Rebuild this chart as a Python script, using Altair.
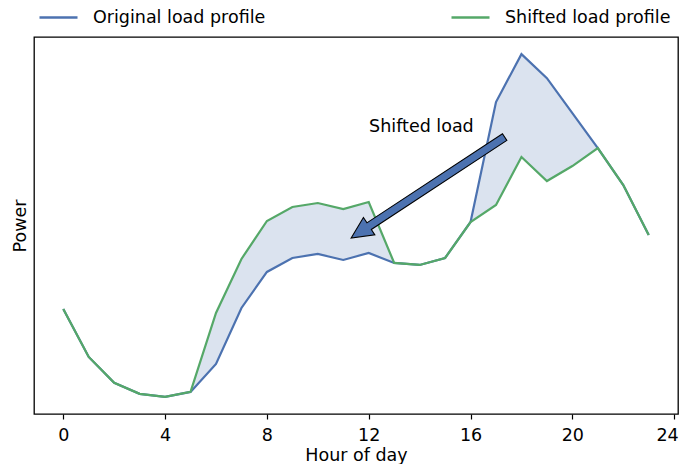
import math
import altair as alt
import pandas as pd

# ---- data ----
hours = list(range(24))
original = [11.1, 6.3, 3.7, 2.6, 2.3, 2.8, 5.6, 11.2, 14.8, 16.2, 16.6, 16.0,
            16.7, 15.7, 15.5, 16.2, 19.8, 31.8, 36.6, 34.2, 30.7, 27.2, 23.5, 18.5]
shifted = [11.1, 6.3, 3.7, 2.6, 2.3, 2.8, 10.7, 16.1, 19.9, 21.3, 21.7, 21.1,
           21.8, 15.7, 15.5, 16.2, 19.8, 21.5, 26.3, 23.9, 25.4, 27.2, 23.5, 18.5]
series_names = ["Original load profile", "Shifted load profile"]
x_ticks = [0, 4, 8, 12, 16, 20, 24]

# annotation (data coordinates)
arrow_tail = (17.34, 28.3)
arrow_head = (11.31, 18.2)
label_pos = (14.07, 28.8)
label_text = "Shifted load"

BLUE = "#4C72B0"
GREEN = "#55A868"
FONT = "DejaVu Sans"
FS = 17.5

W, H = 644, 377
XDOM = [-1.15, 24.15]
YDOM = [0.585, 38.315]

wide = pd.DataFrame({"hour": hours, "orig": original, "shift": shifted})
long = pd.concat([
    pd.DataFrame({"hour": hours, "power": original, "series": series_names[0]}),
    pd.DataFrame({"hour": hours, "power": shifted, "series": series_names[1]}),
])

xs = alt.Scale(domain=XDOM, nice=False, zero=False)
ys = alt.Scale(domain=YDOM, nice=False, zero=False)

xaxis = alt.Axis(values=x_ticks, title="Hour of day", grid=False, domain=False,
                 tickSize=5, tickColor="black", tickWidth=1.2, labelPadding=7,
                 labelFlush=6, labelFlushOffset=4,
                 labelFont=FONT, labelFontSize=FS, labelColor="black",
                 titleFont=FONT, titleFontSize=FS, titleFontWeight="normal",
                 titleColor="black", titlePadding=3, format="d")
yaxis = alt.Axis(title="Power", labels=False, ticks=False, domain=False, grid=False,
                 titleFont=FONT, titleFontSize=FS, titleFontWeight="normal",
                 titleColor="black", titlePadding=5)

area = alt.Chart(wide).mark_area(color=BLUE, opacity=0.2).encode(
    x=alt.X("hour:Q", scale=xs, axis=xaxis),
    y=alt.Y("orig:Q", scale=ys, axis=yaxis),
    y2="shift:Q",
)

lines = alt.Chart(long).mark_line(strokeWidth=2.2).encode(
    x=alt.X("hour:Q", scale=xs),
    y=alt.Y("power:Q", scale=ys),
    color=alt.Color("series:N",
                    scale=alt.Scale(domain=series_names, range=[BLUE, GREEN]),
                    legend=alt.Legend(title=None, orient="none", legendX=4, legendY=-40,
                                      direction="horizontal", columns=2,
                                      columnPadding=180, symbolType="stroke",
                                      symbolSize=1444, symbolStrokeWidth=2.5,
                                      labelOffset=14, labelLimit=400, padding=0,
                                      labelFont=FONT, labelFontSize=FS,
                                      labelColor="black")),
)

# arrow as one custom symbol, sized and rotated from its two data end points
def px(x):
    return (x - XDOM[0]) / (XDOM[1] - XDOM[0]) * W

def py(y):
    return (YDOM[1] - y) / (YDOM[1] - YDOM[0]) * H

dx = px(arrow_head[0]) - px(arrow_tail[0])
dy = py(arrow_head[1]) - py(arrow_tail[1])
length = math.hypot(dx, dy)
angle = math.degrees(math.atan2(dy, dx)) % 360
half = length / 2.0
w = 4.0 / half
hw = 10.4 / half
hb = 1 - 21.5 / half
arrow_path = (f"M -1 {-w} L {hb} {-w} L {hb} {-hw} L 1 0 L {hb} {hw} "
              f"L {hb} {w} L -1 {w} Z")
arrow_df = pd.DataFrame({"x": [(arrow_tail[0] + arrow_head[0]) / 2],
                         "y": [(arrow_tail[1] + arrow_head[1]) / 2]})
arrow = alt.Chart(arrow_df).mark_point(
    shape=arrow_path, size=length ** 2, angle=angle, filled=True,
    fill=BLUE, stroke="black", strokeWidth=1.1, opacity=1, fillOpacity=1,
).encode(x=alt.X("x:Q", scale=xs), y=alt.Y("y:Q", scale=ys))

label_df = pd.DataFrame({"x": [label_pos[0]], "y": [label_pos[1]], "t": [label_text]})
label = alt.Chart(label_df).mark_text(
    font=FONT, fontSize=FS, color="black", align="center", baseline="alphabetic"
).encode(x=alt.X("x:Q", scale=xs), y=alt.Y("y:Q", scale=ys), text="t:N")

chart = alt.layer(area, lines, arrow, label).properties(
    width=W, height=H,
    autosize=alt.AutoSizeParams(type="none"),
    padding={"left": 26, "top": 29, "right": 1, "bottom": 50},
).configure(background="white").configure_view(stroke="black", strokeWidth=1.3)

chart.save("out.html", embed_options={"renderer": "svg", "actions": False})
